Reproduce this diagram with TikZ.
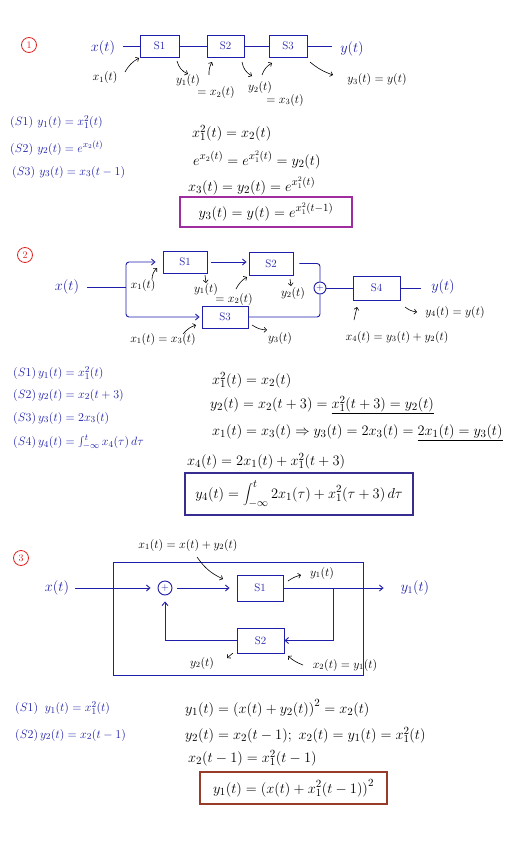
\documentclass[tikz,border=0pt]{standalone}
\usetikzlibrary{arrows.meta}
\definecolor{hblue}{RGB}{30,30,170}
\definecolor{hred}{RGB}{225,35,35}
\definecolor{hmag}{RGB}{160,45,160}
\definecolor{hind}{RGB}{55,45,145}
\definecolor{hbrown}{RGB}{150,60,40}
\begin{document}
\begin{tikzpicture}[x=1pt,y=-1pt,
  blk/.style={draw=hblue, line width=0.9pt, inner sep=0pt, text=hblue, font=\fontsize{11}{13}\selectfont},
  wire/.style={draw=hblue, line width=0.9pt},
  warr/.style={wire, -{Straight Barb[length=3.5pt,width=6pt]}},
  ann/.style={draw=black, line width=0.6pt, -{Straight Barb[length=2.5pt,width=5pt]}},
  lab/.style={inner sep=0pt, font=\fontsize{11.5}{13}\selectfont},
  sig/.style={inner sep=0pt, text=hblue, font=\fontsize{14}{16}\selectfont},
  leq/.style={inner sep=0pt, anchor=west, text=hblue, font=\fontsize{13}{15}\selectfont},
  req/.style={inner sep=0pt, anchor=west, font=\fontsize{15}{18}\selectfont},
  num/.style={circle, draw=hred, text=hred, line width=0.8pt, inner sep=0pt, minimum size=15pt, font=\fontsize{10}{12}\selectfont},
  sumn/.style={circle, draw=hblue, line width=0.9pt, inner sep=0pt, text=hblue, font=\fontsize{10}{10}\selectfont},
  resbox/.style={draw, line width=1.1pt, inner sep=0pt, font=\fontsize{15}{18}\selectfont}
]
\useasboundingbox (0,0) rectangle (530,848);
\fill[white] (0,0) rectangle (530,848);

%% ---------------- Section 1 ----------------
\node[num] (n1) at (29,45) {1};
\node[sig] (xin1) at (103,48) {$x(t)$};
\node[blk, minimum width=39pt, minimum height=22pt] (a1) at (159.5,46) {S1};
\node[blk, minimum width=37pt, minimum height=22pt] (a2) at (225.5,46) {S2};
\node[blk, minimum width=38pt, minimum height=22pt] (a3) at (288,46) {S3};
\node[sig] (yout1) at (352,49) {$y(t)$};
\coordinate (w1a) at (123,46);
\coordinate (w1b) at (332,46);
\draw[wire] (w1a) -- (a1.west);
\draw[wire] (a1.east) -- (a2.west);
\draw[wire] (a2.east) -- (a3.west);
\draw[wire] (a3.east) -- (w1b);

\node[lab] (l1x1) at (105,78) {$x_1(t)$};
\node[lab] (l1y1) at (188,81) {$y_1(t)$};
\node[lab] (l1x2) at (216,93) {$= x_2(t)$};
\node[lab] (l1y2) at (260,88) {$y_2(t)$};
\node[lab] (l1x3) at (285,100) {$= x_3(t)$};
\node[lab] (l1y3) at (377,80) {$y_3(t) = y(t)$};
\coordinate (p1a) at (125,72); \coordinate (q1a) at (139,58);
\coordinate (p1b) at (177,61); \coordinate (q1b) at (188,74);
\coordinate (p1c) at (209,75); \coordinate (q1c) at (212,62);
\coordinate (p1d) at (242,62); \coordinate (q1d) at (252,76);
\coordinate (p1e) at (262,75); \coordinate (q1e) at (272,63);
\coordinate (p1f) at (310,62); \coordinate (q1f) at (333,75);
\draw[ann] (p1a) to[bend left=15] (q1a);
\draw[ann] (p1b) to[bend right=25] (q1b);
\draw[ann] (p1c) to[bend left=15] (q1c);
\draw[ann] (p1d) to[bend right=25] (q1d);
\draw[ann] (p1e) to[bend left=20] (q1e);
\draw[ann] (p1f) to[bend right=10] (q1f);

\node[leq] (e1s1) at (10,122) {$(S1)\ y_1(t) = x_1^2(t)$};
\node[leq] (e1s2) at (10,148) {$(S2)\ y_2(t) = e^{x_2(t)}$};
\node[leq] (e1s3) at (12,172) {$(S3)\ y_3(t) = x_3(t-1)$};
\node[req] (r1a) at (192,133) {$x_1^2(t) = x_2(t)$};
\node[req] (r1b) at (193,160) {$e^{x_2(t)} = e^{x_1^2(t)} = y_2(t)$};
\node[req] (r1c) at (188,186) {$x_3(t) = y_2(t) = e^{x_1^2(t)}$};
\node[resbox, draw=hmag, minimum width=172pt, minimum height=30pt] (r1d) at (266,212) {$y_3(t) = y(t) = e^{x_1^2(t-1)}$};

%% ---------------- Section 2 ----------------
\node[num] (n2) at (25,255) {2};
\node[sig] (xin2) at (67,287) {$x(t)$};
\coordinate (w2a) at (87,287);
\coordinate (fork) at (126,287);
\node[blk, minimum width=44pt, minimum height=22pt] (b1) at (185,262) {S1};
\node[blk, minimum width=44pt, minimum height=23pt] (b2) at (271,263.5) {S2};
\node[blk, minimum width=46pt, minimum height=22pt] (b3) at (225,317) {S3};
\node[sumn, minimum size=12pt] (sum2) at (320,288) {$+$};
\node[blk, minimum width=47pt, minimum height=24pt] (b4) at (376.5,288) {S4};
\node[sig] (yout2) at (443,287) {$y(t)$};
\coordinate (w2b) at (421,288);
\draw[wire] (w2a) -- (fork);
\draw[warr, rounded corners=3pt, shorten >=7pt] (fork) |- (b1.west);
\draw[warr, rounded corners=3pt, shorten >=2pt] (fork) |- (b3.west);
\draw[warr, shorten <=4pt, shorten >=2pt] (b1.east) -- (b1.east -| b2.west);
\draw[wire, rounded corners=3pt, shorten <=6pt] (b2.east) -| (sum2.north);
\draw[wire, rounded corners=3pt] (b3.east) -| (sum2.south);
\draw[wire] (sum2.east) -- (b4.west);
\draw[wire] (b4.east) -- (w2b);

\node[lab] (l2x1) at (143,285) {$x_1(t)$};
\node[lab] (l2y1) at (206,289) {$y_1(t)$};
\node[lab] (l2x2) at (234,299) {$= x_2(t)$};
\node[lab] (l2y2) at (293,293) {$y_2(t)$};
\node[lab] (l2x3) at (163,339) {$x_1(t) = x_3(t)$};
\node[lab] (l2y3) at (280,338) {$y_3(t)$};
\node[lab] (l2x4) at (397,337) {$x_4(t) = y_3(t) + y_2(t)$};
\node[lab] (l2y4) at (455,312) {$y_4(t) = y(t)$};
\coordinate (p2a) at (152,279); \coordinate (q2a) at (157,268);
\coordinate (p2b) at (205,275); \coordinate (q2b) at (206,283);
\coordinate (p2c) at (236,289); \coordinate (q2c) at (247,277);
\coordinate (p2d) at (290,279); \coordinate (q2d) at (291,286);
\coordinate (p2e) at (183,334); \coordinate (q2e) at (196,325);
\coordinate (p2f) at (252,325); \coordinate (q2f) at (267,330);
\coordinate (p2g) at (354,320); \coordinate (q2g) at (357,307);
\coordinate (p2h) at (405,307); \coordinate (q2h) at (417,312);
\draw[ann] (p2a) to[bend left=20] (q2a);
\draw[ann] (p2b) -- (q2b);
\draw[ann] (p2c) to[bend left=15] (q2c);
\draw[ann] (p2d) -- (q2d);
\draw[ann] (p2e) to[bend left=15] (q2e);
\draw[ann] (p2f) to[bend right=15] (q2f);
\draw[ann] (p2g) -- (q2g);
\draw[ann] (p2h) to[bend right=15] (q2h);

\node[leq] (e2s1) at (13,373) {$(S1)\, y_1(t) = x_1^2(t)$};
\node[leq] (e2s2) at (13,395) {$(S2)\, y_2(t) = x_2(t+3)$};
\node[leq] (e2s3) at (13,418) {$(S3)\, y_3(t) = 2x_3(t)$};
\node[leq] (e2s4) at (13,442) {$(S4)\, y_4(t) = \int_{-\infty}^{t} x_4(\tau)\,d\tau$};
\node[req] (r2a) at (212,380) {$x_1^2(t) = x_2(t)$};
\node[req] (r2b) at (210,405) {$y_2(t) = x_2(t+3) = \underline{x_1^2(t+3) = y_2(t)}$};
\node[req] (r2c) at (212,433) {$x_1(t) = x_3(t) \Rightarrow y_3(t) = 2x_3(t) = \underline{2x_1(t) = y_3(t)}$};
\node[req] (r2d) at (187,461) {$x_4(t) = 2x_1(t) + x_1^2(t+3)$};
\node[resbox, draw=hind, minimum width=228pt, minimum height=42pt] (r2e) at (299,494) {$y_4(t) = \displaystyle\int_{-\infty}^{t} 2x_1(\tau) + x_1^2(\tau+3)\,d\tau$};

%% ---------------- Section 3 ----------------
\node[num] (n3) at (21,558) {3};
\node[draw=hblue, line width=0.9pt, minimum width=250pt, minimum height=113pt, inner sep=0pt] (frame) at (238,618.5) {};
\node[sig] (xin3) at (57,588) {$x(t)$};
\node[sumn, minimum size=14pt] (sum3) at (165,588) {$+$};
\node[blk, minimum width=46pt, minimum height=26pt] (c1) at (260,588) {S1};
\node[blk, minimum width=47pt, minimum height=25pt] (c2) at (260.5,640.5) {S2};
\node[sig] (yout3) at (415,588) {$y_1(t)$};
\coordinate (br3) at (333,588);
\draw[warr, shorten <=6pt, shorten >=7pt] (xin3.east) -- (sum3.west);
\draw[warr, shorten <=5pt, shorten >=7pt] (sum3.east) -- (c1.west);
\draw[warr, shorten >=17pt] (c1.east) -- (yout3.west);
\draw[warr] (br3) |- (c2.east);
\draw[warr, shorten >=6pt] (c2.west) -| (sum3.south);

\node[lab] (l3x1) at (188,545) {$x_1(t) = x(t) + y_2(t)$};
\node[lab] (l3y1) at (322,573) {$y_1(t)$};
\node[lab] (l3y2) at (202,663) {$y_2(t)$};
\node[lab] (l3x2) at (345,665) {$x_2(t) = y_1(t)$};
\coordinate (p3a) at (197,557); \coordinate (q3a) at (223,579);
\coordinate (p3b) at (288,581); \coordinate (q3b) at (301,575);
\coordinate (p3c) at (233,653); \coordinate (q3c) at (227,658);
\coordinate (p3d) at (303,665); \coordinate (q3d) at (288,656);
\draw[ann] (p3a) to[bend right=15] (q3a);
\draw[ann] (p3b) to[bend left=10] (q3b);
\draw[ann] (p3c) -- (q3c);
\draw[ann] (p3d) to[bend left=10] (q3d);

\node[leq] (e3s1) at (15,708) {$(S1)\;\; y_1(t) = x_1^2(t)$};
\node[leq] (e3s2) at (15,735) {$(S2)\, y_2(t) = x_2(t-1)$};
\node[req] (r3a) at (185,708) {$y_1(t) = \big(x(t) + y_2(t)\big)^2 = x_2(t)$};
\node[req] (r3b) at (185,735) {$y_2(t) = x_2(t-1);\ x_2(t) = y_1(t) = x_1^2(t)$};
\node[req] (r3c) at (188,758) {$x_2(t-1) = x_1^2(t-1)$};
\node[resbox, draw=hbrown, minimum width=187pt, minimum height=32pt] (r3d) at (293.5,788) {$y_1(t) = \big(x(t) + x_1^2(t-1)\big)^2$};
\end{tikzpicture}
\end{document}
